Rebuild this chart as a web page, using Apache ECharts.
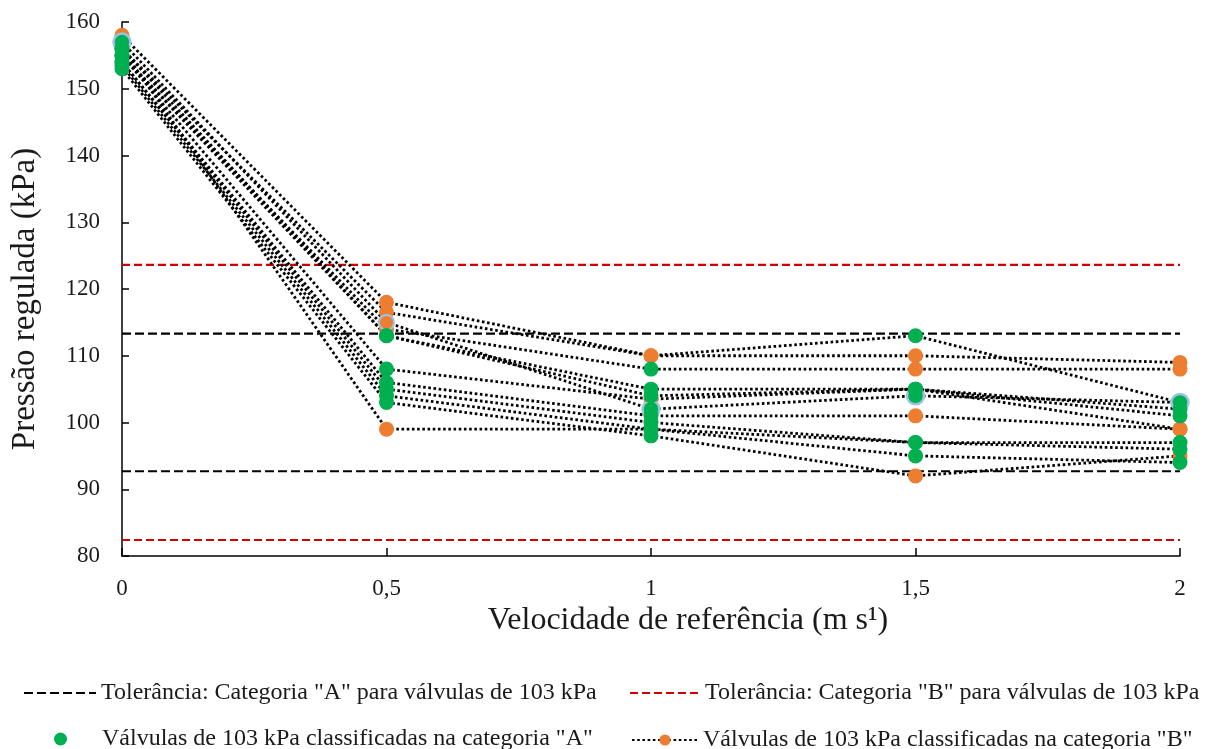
<!DOCTYPE html>
<html>
<head>
<meta charset="utf-8">
<script src="https://cdn.jsdelivr.net/npm/echarts@6/dist/echarts.min.js"></script>
<style>
  html, body { margin: 0; padding: 0; background: #ffffff; }
  #chart { width: 1210px; height: 749px; }
</style>
</head>
<body>
<div id="chart"></div>
<script>
// Reference velocities (m/s) and their axis labels
const velocities = [0, 0.5, 1, 1.5, 2];
const velocityLabels = ['0', '0,5', '1', '1,5', '2'];

// Regulated pressure (kPa) of each 103 kPa valve at each reference velocity
const valvePressures = [
  [158, 118, 110, 110, 109],
  [156, 116.5, 110, 113, 103],
  [155, 114, 108, 108, 108],
  [157, 115, 102, 104, 103],
  [156, 113, 105, 105, 102],
  [155, 108, 103.5, 105, 99],
  [154, 106, 101, 101, 99],
  [154, 105, 100, 97, 97],
  [153.5, 104, 99, 97, 96],
  [153, 103, 98, 92, 95],
  [156, 99, 99, 95, 94],
  [155, 113, 104, 105, 101]
];

// Category of each measured point (A or B), same order as above
const valveClasses = [
  'BBBBB',
  'BBBAA',
  'ABABB',
  'ABAAA',
  'AAAAA',
  'AABAB',
  'AAABB',
  'AAAAA',
  'AAAAA',
  'AAABB',
  'ABAAA',
  'AAAAA'
];

// Valve whose markers carry the light-blue outline
const outlinedValve = 3;

// Tolerance bands for 103 kPa valves
const nominalPressure = 103;
const toleranceA = [nominalPressure * 0.9, nominalPressure * 1.1];
const toleranceB = [nominalPressure * 0.8, nominalPressure * 1.2];

// Y axis range
const yMin = 80, yMax = 160, yStep = 10;

const NAME_TOL_A = 'Tolerância: Categoria "A" para válvulas de 103 kPa';
const NAME_TOL_B = 'Tolerância: Categoria "B" para válvulas de 103 kPa';
const NAME_CAT_A = 'Válvulas de 103 kPa classificadas na categoria "A"';
const NAME_CAT_B = 'Válvulas de 103 kPa classificadas na categoria "B"';

const FONT = 'Liberation Serif';
const TEXT = '#1a1a1a';
const GREEN = '#00B050';
const ORANGE = '#ED7D31';
const OUTLINE = '#9DC3E6';
const MARK = 15;

const xMin = velocities[0], xMax = velocities[velocities.length - 1];

function toleranceSeries(name, value, color, dash) {
  return {
    name: name,
    type: 'line',
    data: [[xMin, value], [xMax, value]],
    symbol: 'none',
    silent: true,
    z: 1,
    lineStyle: { color: color, width: 2.2, type: dash },
    itemStyle: { color: color }
  };
}

const series = [];
toleranceA.forEach(v => series.push(toleranceSeries(NAME_TOL_A, v, '#000000', [9, 4])));
toleranceB.forEach(v => series.push(toleranceSeries(NAME_TOL_B, v, '#CC0000', [8, 4])));

// One dotted line per valve; category "B" points drawn as orange markers on the line
valvePressures.forEach((pressures, i) => {
  series.push({
    name: NAME_CAT_B,
    type: 'line',
    z: 2,
    symbol: 'circle',
    symbolSize: MARK,
    lineStyle: { color: '#000000', width: 2.8, type: [2.6, 2.6] },
    itemStyle: {
      color: ORANGE,
      borderColor: i === outlinedValve ? OUTLINE : ORANGE,
      borderWidth: i === outlinedValve ? 2 : 0
    },
    data: pressures.map((p, j) => valveClasses[i][j] === 'B'
      ? { value: [velocities[j], p] }
      : { value: [velocities[j], p], symbol: 'none' })
  });
});

// Category "A" points as green markers
const pointsA = [];
valvePressures.forEach((pressures, i) => {
  pressures.forEach((p, j) => {
    if (valveClasses[i][j] === 'A') {
      const item = { value: [velocities[j], p] };
      if (i === outlinedValve) {
        item.itemStyle = { borderColor: OUTLINE, borderWidth: 2.5 };
        item.symbolSize = MARK + 2;
      }
      pointsA.push(item);
    }
  });
});
series.push({
  name: NAME_CAT_A,
  type: 'scatter',
  z: 3,
  symbol: 'circle',
  symbolSize: MARK,
  itemStyle: { color: GREEN, opacity: 1 },
  data: pointsA
});

const legendText = { fontFamily: FONT, fontSize: 24, color: TEXT };
const hiddenMarker = { color: 'rgba(0,0,0,0)', borderWidth: 0, opacity: 0 };

const option = {
  animation: false,
  backgroundColor: '#ffffff',
  textStyle: { fontFamily: FONT, color: TEXT },
  grid: { left: 122, right: 30, top: 22, bottom: 193, containLabel: false },
  xAxis: {
    type: 'value',
    min: xMin,
    max: xMax,
    interval: 0.5,
    name: 'Velocidade de referência (m s¹)',
    nameLocation: 'middle',
    nameGap: 45,
    nameTextStyle: { fontFamily: FONT, fontSize: 32, color: TEXT, padding: [0, 0, 0, 74] },
    axisLine: { show: true, lineStyle: { color: '#000000', width: 1.5 } },
    axisTick: { show: true, inside: true, length: 8, lineStyle: { color: '#000000', width: 1.5 } },
    splitLine: { show: false },
    axisLabel: {
      margin: 21,
      fontFamily: FONT,
      fontSize: 23,
      color: TEXT,
      formatter: v => {
        const k = velocities.indexOf(v);
        return k >= 0 ? velocityLabels[k] : '';
      }
    }
  },
  yAxis: {
    type: 'value',
    min: yMin,
    max: yMax,
    interval: yStep,
    name: 'Pressão regulada (kPa)',
    nameLocation: 'middle',
    nameGap: 80,
    nameTextStyle: { fontFamily: FONT, fontSize: 33, color: TEXT, padding: [0, 20, 0, 0] },
    axisLine: { show: true, lineStyle: { color: '#000000', width: 1.5 } },
    axisTick: { show: true, inside: true, length: 7, lineStyle: { color: '#000000', width: 1.5 } },
    splitLine: { show: false },
    axisLabel: { margin: 22, fontFamily: FONT, fontSize: 23, color: TEXT }
  },
  legend: [
    { data: [NAME_TOL_A], left: 18, top: 676, itemWidth: 72, itemHeight: 14, itemStyle: hiddenMarker,
      textStyle: legendText, selectedMode: false },
    { data: [NAME_TOL_B], left: 624, top: 676, itemWidth: 70, itemHeight: 14, itemStyle: hiddenMarker,
      textStyle: legendText, selectedMode: false },
    { data: [{ name: NAME_CAT_A, icon: 'circle' }], left: 49, top: 722, itemWidth: 13, itemHeight: 13,
      textStyle: Object.assign({ padding: [0, 0, 0, 30] }, legendText), selectedMode: false },
    { data: [NAME_CAT_B], left: 626, top: 723, itemWidth: 66, itemHeight: 14, textStyle: legendText, selectedMode: false }
  ],
  series: series
};

const chart = echarts.init(document.getElementById('chart'), null, { renderer: 'canvas' });
chart.setOption(option);
</script>
</body>
</html>
